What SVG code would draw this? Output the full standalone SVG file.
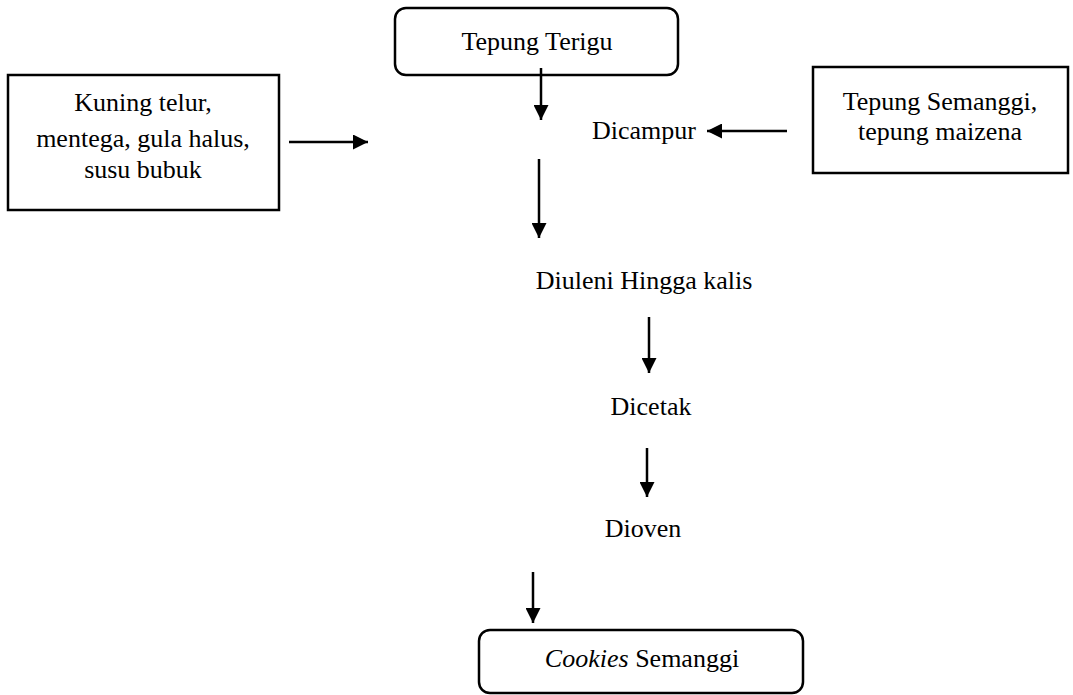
<svg xmlns="http://www.w3.org/2000/svg" width="1073" height="695" viewBox="0 0 1073 695">
<style>
.box{fill:#fff;stroke:#000;stroke-width:2.5}
.t{font-family:"Liberation Serif","Times New Roman",serif;font-size:26px;fill:#000;text-anchor:middle}
.c line{stroke:#000;stroke-width:2.5}
</style>
<defs>
<marker id="ah" markerWidth="6" markerHeight="6" refX="6" refY="3" orient="auto" markerUnits="strokeWidth">
<path d="M0,0 L6,3 L0,6 Z" fill="#000"/>
</marker>
</defs>
<rect width="1073" height="695" fill="#fff"/>
<g id="n-tepung-terigu">
<rect class="box" x="395" y="8" width="283" height="67" rx="11"/>
<text class="t" x="537" y="50">Tepung Terigu</text>
</g>
<g id="n-kuning">
<rect class="box" x="8" y="75" width="271" height="135"/>
<text class="t" x="143" y="111">Kuning telur,</text>
<text class="t" x="143" y="147">mentega, gula halus,</text>
<text class="t" x="143" y="178">susu bubuk</text>
</g>
<g id="n-semanggi">
<rect class="box" x="813" y="67" width="255" height="106"/>
<text class="t" x="940" y="110">Tepung Semanggi,</text>
<text class="t" x="940" y="140">tepung maizena</text>
</g>
<g id="n-dicampur"><text class="t" x="644" y="139">Dicampur</text></g>
<g id="n-diuleni"><text class="t" x="644" y="289">Diuleni Hingga kalis</text></g>
<g id="n-dicetak"><text class="t" x="651" y="415">Dicetak</text></g>
<g id="n-dioven"><text class="t" x="643" y="537">Dioven</text></g>
<g id="n-cookies">
<rect class="box" x="479" y="630" width="324" height="63" rx="11"/>
<text class="t" x="642" y="667"><tspan font-style="italic">Cookies</tspan> Semanggi</text>
</g>
<g class="c" id="connectors">
<line x1="541" y1="68" x2="541" y2="120" marker-end="url(#ah)"/>
<line x1="289" y1="142" x2="368" y2="142" marker-end="url(#ah)"/>
<line x1="787" y1="131" x2="707" y2="131" marker-end="url(#ah)"/>
<line x1="539" y1="159" x2="539" y2="238" marker-end="url(#ah)"/>
<line x1="649" y1="317" x2="649" y2="373" marker-end="url(#ah)"/>
<line x1="647" y1="448" x2="647" y2="497" marker-end="url(#ah)"/>
<line x1="533" y1="572" x2="533" y2="623" marker-end="url(#ah)"/>
</g>
</svg>
